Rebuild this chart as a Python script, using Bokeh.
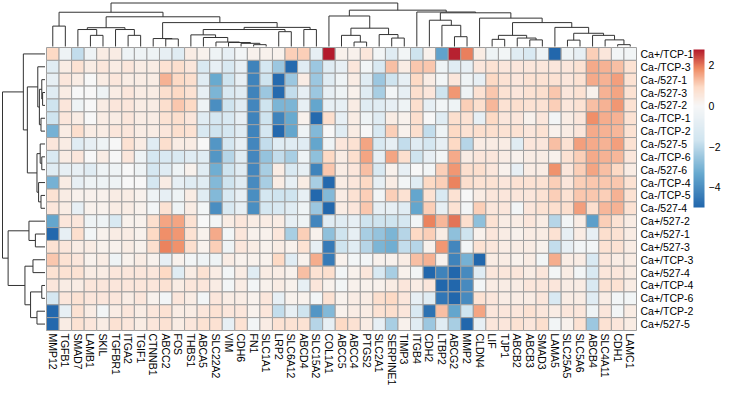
import math
from bokeh.plotting import figure
from bokeh.models import ColumnDataSource, LinearColorMapper, ColorBar, FixedTicker, Range1d
from bokeh.core.properties import value
from bokeh.embed import file_html
from bokeh.resources import INLINE

genes = ["MMP12", "TGFB1", "SMAD7", "LAMB1", "SKIL", "TGFBR1", "ITGA2", "TGIF1", "CTNNB1",
         "ABCC2", "FOS", "THBS1", "ABCA5", "SLC22A2", "VIM", "CDH6", "FN1", "SLC1A1", "LRP2",
         "SLC6A12", "ABCD4", "SLC15A2", "COL1A1", "ABCC5", "ABCC4", "PTGS2", "SLC2A1",
         "SERPINE1", "TIMP3", "ITGB4", "CDH2", "LTBP2", "ABCG2", "MMP2", "CLDN4", "LIF", "TJP1",
         "ABCB2", "ABCB3", "SMAD3", "LAMA5", "SLC25A5", "SLC5A6", "ABCB4", "SLC4A11", "CDH1", "LAMC1"]

samples = ["Ca+/TCP-1", "Ca-/TCP-3", "Ca-/527-1", "Ca-/527-3", "Ca-/527-2", "Ca-/TCP-1",
           "Ca-/TCP-2", "Ca-/527-5", "Ca-/TCP-6", "Ca-/527-6", "Ca-/TCP-4", "Ca-/TCP-5",
           "Ca-/527-4", "Ca+/527-2", "Ca+/527-1", "Ca+/527-3", "Ca+/TCP-3", "Ca+/527-4",
           "Ca+/TCP-4", "Ca+/TCP-6", "Ca+/TCP-2", "Ca+/527-5"]

r00 = [0.95,-0.4,-1.9,-0.4,0.35,0.35,-0.4,-0.4,-0.4,-0.7,-1.0,0.35,0.2,-0.4,-0.7,-0.2,0.2,0.2,0.2,1.05,1.05,-0.7,2.78,0.2,0.2,0.55,-0.2,-1.0,-0.2,-1.7,0.2,-3.5,2.7,1.95,0.35,-0.4,-0.2,-1.0,-1.3,-0.4,-5.0,-0.4,-0.7,1.05,0.55,-0.2,-0.2]
r01 = [-1.0,0.35,0.7,0.35,0.55,0.35,0.55,0.35,0.35,0.7,0.8,0.55,-1.3,-0.7,-1.3,-0.7,-4.3,-1.5,-2.5,-4.9,-1.0,-2.5,-1.0,-0.7,0.55,-0.2,-1.3,1.25,0.35,1.15,1.15,-0.4,-1.0,-0.7,0.55,0.7,0.55,0.55,0.55,0.55,0.55,0.55,0.7,1.5,1.4,1.25,0.7]
r02 = [-0.7,0.55,0.35,0.0,0.35,0.55,0.35,0.35,0.35,1.4,0.95,0.8,-1.0,-3.3,-1.7,-0.7,-4.3,-1.7,-4.9,-2.5,0.35,-2.5,-1.0,-0.4,0.35,-1.0,-2.5,-1.7,-0.7,0.95,0.35,-0.2,0.55,-0.4,-0.7,0.95,0.7,0.55,0.7,0.7,0.7,0.55,0.7,1.5,1.4,1.6,0.7]
r03 = [-1.0,0.35,0.0,0.0,-0.4,0.35,0.55,0.35,0.35,0.8,0.95,0.7,-0.7,-3.0,-1.3,-1.0,-4.3,-2.5,-4.9,-1.9,-0.7,-2.5,-0.7,-0.4,0.2,-1.0,-2.3,-0.2,-0.7,0.8,0.55,-1.7,1.7,-0.4,0.7,1.15,0.7,0.55,0.7,0.8,1.15,0.55,0.7,0.2,1.4,1.55,0.7]
r04 = [-1.7,0.55,-0.4,0.0,0.35,0.55,0.55,0.35,0.35,0.8,1.15,0.95,-0.4,-4.0,-1.7,-1.0,-4.2,-1.7,-3.0,-3.0,-0.7,-3.4,-0.7,-0.7,0.35,-1.0,-1.0,-0.7,-0.4,0.8,-0.7,-0.2,-0.4,1.05,0.8,1.35,0.7,0.8,0.7,0.7,1.05,0.55,0.7,1.25,1.4,1.7,0.7]
r05 = [-1.7,0.55,0.35,0.0,0.35,0.35,0.55,0.35,0.35,0.7,0.8,0.55,-1.0,-1.5,-1.3,-0.7,-4.3,-1.7,-4.3,-3.3,0.2,-4.9,0.8,-0.7,0.35,-0.4,-1.0,0.35,0.2,0.8,0.0,-1.0,0.8,0.7,-0.7,0.95,0.55,0.55,0.2,0.55,-0.2,0.35,0.55,1.8,1.45,1.4,0.7]
r06 = [-3.1,0.35,0.8,0.35,0.35,0.55,0.55,0.35,0.35,0.55,0.8,0.7,-1.3,-1.7,-1.5,-1.0,-4.3,-1.5,-4.95,-3.4,-0.4,-2.9,0.0,-1.0,0.35,0.0,-1.3,1.05,0.2,0.8,-1.9,-0.4,0.95,0.7,0.8,0.8,0.7,0.7,0.55,0.7,0.2,0.35,0.55,1.5,1.4,1.35,0.7]
r07 = [0.55,0.35,-1.0,-0.7,-0.4,0.0,0.7,0.35,-1.0,0.8,0.35,0.35,0.0,-3.8,-1.5,-0.7,-4.2,-1.9,-1.0,-1.0,-1.0,-3.4,-0.4,0.55,0.7,1.55,-1.3,-0.7,-1.9,-1.0,-1.5,-0.7,0.95,-2.1,0.35,0.35,0.35,-1.0,0.55,0.55,1.25,0.7,1.6,1.5,1.4,1.6,0.7]
r08 = [-1.3,0.35,0.55,0.0,0.35,0.0,0.55,-0.4,-1.5,-1.3,-1.3,-1.0,-1.0,-3.8,-2.1,-1.0,-4.2,-2.6,-1.9,-2.3,-0.4,-2.7,0.95,0.35,0.8,1.55,-0.7,1.55,0.8,-1.7,-0.7,-0.2,1.5,0.35,0.55,0.55,0.35,0.2,0.35,0.35,0.2,0.7,1.05,1.5,1.4,1.35,0.55]
r09 = [-1.0,-0.7,-0.7,-1.0,-0.4,-0.4,0.0,-0.4,-1.5,-1.0,-0.4,0.2,-1.0,-3.2,-1.7,-1.0,-4.2,-2.3,0.35,-1.3,-0.7,-4.3,1.15,0.35,0.55,1.25,-1.3,0.2,-0.7,0.0,-0.2,1.05,1.7,0.8,0.8,0.55,0.2,-0.7,0.35,0.35,1.75,0.55,1.05,1.55,1.25,0.95,0.35]
r10 = [-3.1,0.35,-0.7,-0.4,-0.4,-0.4,0.0,0.0,-1.5,0.35,-0.7,-1.0,-1.0,-2.9,-1.7,-1.0,-4.1,-2.3,0.35,-0.7,0.35,-2.3,-4.95,0.35,0.55,0.95,-0.7,0.35,-0.2,-1.0,0.95,1.05,1.9,0.8,0.7,0.7,0.55,0.7,0.7,0.7,1.05,0.55,1.05,1.15,1.15,1.15,0.7]
r11 = [0.7,0.35,0.2,0.2,0.2,0.35,0.35,0.2,-0.4,-0.7,-0.4,0.35,-1.0,-2.9,-1.3,-0.7,-4.0,-1.5,-1.7,-1.7,-0.7,-4.95,-2.9,0.35,0.7,1.05,-0.2,1.05,0.7,-3.4,0.7,-1.3,0.7,0.0,0.35,0.55,0.55,0.55,0.55,0.7,1.05,0.7,1.15,1.15,1.05,1.4,0.7]
r12 = [0.55,0.35,-0.7,0.2,0.2,0.35,0.35,0.2,-0.2,0.7,-0.4,0.35,-0.2,-4.0,-1.3,-0.7,-4.0,-1.5,-1.3,-1.0,-0.4,-2.5,-5.0,0.35,0.55,1.15,-0.7,-0.7,-1.0,-3.4,1.05,-0.7,0.7,-0.2,1.05,0.55,0.55,-0.2,0.55,0.7,0.8,0.8,1.6,0.8,1.35,1.4,0.7]
r13 = [-3.4,0.55,0.55,-0.4,-0.4,-1.3,0.2,0.2,0.8,1.55,1.55,0.7,0.0,-0.2,0.35,0.55,0.35,0.35,0.35,-0.7,-0.4,-4.2,-1.0,-1.0,-0.7,-1.7,-1.7,-1.7,-1.5,-0.2,1.9,1.35,2.05,0.8,-2.7,0.7,0.35,0.35,0.55,0.35,-2.1,-0.2,0.35,-3.6,1.05,0.7,0.35]
r14 = [-4.95,-0.7,0.8,-0.2,0.2,0.35,0.35,0.2,0.95,1.8,1.7,0.7,0.2,1.5,-0.2,0.55,0.2,0.2,0.55,-2.3,1.05,0.2,-2.7,-1.7,-0.7,-2.3,-2.6,-3.0,-2.1,0.95,1.05,0.35,-2.7,-1.7,0.2,0.55,0.35,0.2,0.35,0.35,0.7,-0.7,0.35,-0.7,0.8,0.7,0.35]
r15 = [0.7,0.55,0.35,0.35,0.2,0.2,0.35,0.2,0.8,1.9,1.75,0.8,0.2,1.05,-0.4,0.55,0.35,0.2,0.35,0.2,0.7,-0.7,-4.5,-1.7,-1.0,-2.1,-3.0,-3.2,-1.9,-2.1,0.2,1.7,-4.2,-0.2,0.7,0.55,0.35,0.35,0.35,0.2,-1.9,-0.7,-0.2,-0.2,0.7,0.7,0.35]
r16 = [1.15,0.7,0.55,0.2,0.35,-0.4,0.2,0.35,0.2,-0.7,0.2,-0.2,-0.4,-0.4,0.35,0.2,0.2,0.2,0.95,-1.0,0.2,1.45,-4.5,0.2,-0.2,-0.2,0.2,0.2,0.35,1.25,1.4,0.2,-4.3,-3.1,-5.0,0.35,0.35,0.2,0.35,-0.2,1.45,0.35,0.35,-1.3,0.55,0.35,0.35]
r17 = [0.7,0.7,0.7,0.35,0.35,0.55,0.55,0.55,0.55,0.95,-1.0,0.35,0.7,0.35,-0.2,0.35,-1.0,0.35,0.35,0.2,1.25,0.7,0.8,-0.2,0.2,0.55,-1.3,-2.3,0.2,-0.2,-5.0,-4.3,-5.0,-4.1,-1.0,0.55,0.55,0.55,0.35,0.55,-0.2,0.35,-0.2,-1.3,0.55,0.55,0.35]
r18 = [0.55,0.35,0.35,0.55,0.55,0.55,0.55,0.55,0.55,0.7,0.35,0.55,0.55,0.35,-0.2,0.35,-0.2,0.2,0.35,0.2,-0.7,0.55,0.2,-0.2,0.2,0.2,0.2,0.35,0.55,0.35,0.55,-5.0,-5.0,-4.1,-0.2,0.35,0.35,0.35,0.55,0.55,0.55,0.35,0.35,-1.3,0.7,0.7,0.35]
r19 = [-1.5,0.55,0.7,0.55,0.55,0.55,0.35,0.55,0.2,-0.2,0.55,0.35,-0.2,0.55,0.35,0.35,0.2,0.55,-0.7,0.2,0.2,-0.2,0.7,0.2,0.35,0.35,0.8,0.95,0.55,-0.7,-1.0,-4.6,-5.0,-4.1,0.7,0.55,0.35,0.35,0.35,0.55,-1.3,0.35,0.35,-1.0,0.35,-0.2,-0.2]
r20 = [-4.95,-0.7,0.7,0.35,-0.2,0.35,0.55,0.35,0.55,0.7,0.35,0.35,0.55,0.7,0.55,0.55,0.2,0.55,-1.9,-0.7,-1.7,-3.8,-2.9,0.2,0.35,0.35,0.7,0.8,0.55,-1.3,-4.7,1.25,-3.4,-1.7,1.55,0.55,0.55,0.55,0.7,0.55,0.35,0.55,0.55,-0.4,0.55,-0.2,0.35]
r21 = [-4.95,0.35,0.7,0.55,0.35,0.7,0.55,0.35,0.55,0.7,0.35,0.55,0.7,0.7,-0.7,0.7,-0.2,0.35,0.7,0.7,0.7,-2.1,-0.7,0.95,0.7,0.35,-0.7,-2.3,0.2,-1.0,-2.5,-1.0,-2.3,-5.0,-0.7,0.55,0.55,0.7,0.55,0.8,-0.2,0.2,0.7,-2.5,0.7,0.55,0.35]

rows = [r00, r01, r02, r03, r04, r05, r06, r07, r08, r09, r10, r11,
        r12, r13, r14, r15, r16, r17, r18, r19, r20, r21]

# dendrograms: (merge height, left, right)
col_tree = (54.6,
  (43.0,
    (25.6, "MMP12", "TGFB1"),
    (37.3,
      (23.6,
        (21.3, "SMAD7", (14.0, "LAMB1", "SKIL")),
        (21.3, "TGFBR1", (14.0, "ITGA2", "TGIF1"))),
      (30.0,
        (10.0, "CTNNB1", (9.5, "ABCC2", "FOS")),
        (24.0,
          (21.3,
            (14.6, "THBS1", (11.3, "ABCA5", (5.6, "SLC22A2", (5.0, "VIM", (4.0, "CDH6", (2.3, "FN1", "SLC1A1")))))),
            (18.6, "LRP2", "SLC6A12")),
          (21.3, "ABCD4", "SLC15A2"))))),
  (45.6,
    (38.3, "COL1A1",
      (23.0,
        (14.0, "ABCC5", (5.6, "ABCC4", "PTGS2")),
        (15.0, "SLC2A1", (10.6, "SERPINE1", "TIMP3")))),
    (43.3, "ITGB4",
      (42.3,
        (33.0, "CDH2", (26.6, "LTBP2", (12.3, "ABCG2", "MMP2"))),
        (35.6, "CLDN4",
          (30.0,
            (14.0, (9.0, "LIF", "TJP1"), (10.6, "ABCB2", (8.3, "ABCB3", "SMAD3"))),
            (24.0, "LAMA5",
              (16.6, (8.0, "SLC25A5", "SLC5A6"),
                (14.0, "ABCB4", (8.3, "SLC4A11", (2.3, "CDH1", "LAMC1")))))))))))

row_tree = (53.0,
  (27.0, "Ca+/TCP-1",
    (22.0,
      (9.0, "Ca-/TCP-3",
        (7.0, (4.0, "Ca-/527-1", (3.0, "Ca-/527-3", "Ca-/527-2")), (5.0, "Ca-/TCP-1", "Ca-/TCP-2"))),
      (10.0,
        (6.0, "Ca-/527-5", (4.0, "Ca-/TCP-6", "Ca-/527-6")),
        (8.0, "Ca-/TCP-4", (5.0, "Ca-/TCP-5", "Ca-/527-4"))))),
  (46.0,
    (20.0, "Ca+/527-2", (12.0, "Ca+/527-1", "Ca+/527-3")),
    (25.0,
      (15.0, "Ca+/TCP-3", "Ca+/527-4"),
      (18.0, (4.0, "Ca+/TCP-4", "Ca+/TCP-6"), (10.0, "Ca+/TCP-2", "Ca+/527-5")))))

# ---- geometry (pixels of the figure) ----
W, H = 724, 387
hm_left, hm_right, hm_top, hm_bottom = 46, 636, 47, 330
ncol, nrow = len(genes), len(samples)
kx = (hm_right - hm_left) / ncol
ky = (hm_bottom - hm_top) / nrow
x0 = -hm_left / kx
x1 = (W - hm_left) / kx
y0 = -(H - hm_bottom) / ky
y1 = nrow + hm_top / ky

anchors = [(-5.0, "#2166AC"), (-3.333, "#67A9CF"), (-1.667, "#D1E5F0"), (0.0, "#F7F7F7"),
           (0.927, "#FDDBC7"), (1.853, "#EF8A62"), (2.78, "#B2182B")]
vmin, vmax = anchors[0][0], anchors[-1][0]

def hex2rgb(h):
    return tuple(int(h[i:i + 2], 16) for i in (1, 3, 5))

def interp(v):
    for (a, ca), (b, cb) in zip(anchors[:-1], anchors[1:]):
        if a <= v <= b:
            t = (v - a) / (b - a)
            A, B = hex2rgb(ca), hex2rgb(cb)
            return "#%02x%02x%02x" % tuple(round(A[i] + (B[i] - A[i]) * t) for i in range(3))
    return anchors[0][1] if v < a else anchors[-1][1]

N = 256
palette = [interp(vmin + (k + 0.5) * (vmax - vmin) / N) for k in range(N)]
mapper = LinearColorMapper(palette=palette, low=vmin, high=vmax)

p = figure(width=W, height=H, output_backend="svg", toolbar_location=None,
           x_range=Range1d(x0, x1), y_range=Range1d(y0, y1),
           x_axis_location=None, y_axis_location=None,
           min_border=0, min_border_left=0, min_border_right=0, min_border_top=0, min_border_bottom=0)
p.outline_line_color = None
p.xgrid.visible = False
p.ygrid.visible = False
p.background_fill_color = "white"

# heatmap cells
xs, ys, vs = [], [], []
for i, s in enumerate(samples):
    for j, g in enumerate(genes):
        xs.append(j + 0.5)
        ys.append(nrow - i - 0.5)
        vs.append(rows[i][j])
src = ColumnDataSource(dict(x=xs, y=ys, v=vs))
p.rect(x="x", y="y", width=1, height=1, source=src,
       fill_color={"field": "v", "transform": mapper},
       line_color="#a0a0a0", line_width=1)

# dendrograms
def dendro(tree, pos):
    segs = []
    def rec(node):
        if isinstance(node, str):
            return pos[node], 0.0
        h, a, b = node
        xa, ha = rec(a)
        xb, hb = rec(b)
        segs.append((xa, ha, xa, h))
        segs.append((xb, hb, xb, h))
        segs.append((xa, h, xb, h))
        return (xa + xb) / 2, h
    rec(tree)
    return segs

cpos = {g: j + 0.5 for j, g in enumerate(genes)}
csegs = dendro(col_tree, cpos)
top_base = nrow + 1.0 / ky
top_scale = (y1 - 2.5 / ky - top_base) / col_tree[0]
p.segment(x0=[s[0] for s in csegs], y0=[top_base + s[1] * top_scale for s in csegs],
          x1=[s[2] for s in csegs], y1=[top_base + s[3] * top_scale for s in csegs],
          line_color="#333333", line_width=1)

rpos = {s: nrow - i - 0.5 for i, s in enumerate(samples)}
rsegs = dendro(row_tree, rpos)
left_base = -1.5 / kx
left_scale = (x0 + 2.0 / kx - left_base) / row_tree[0]
p.segment(x0=[left_base + s[1] * left_scale for s in rsegs], y0=[s[0] for s in rsegs],
          x1=[left_base + s[3] * left_scale for s in rsegs], y1=[s[2] for s in rsegs],
          line_color="#333333", line_width=1)

# labels
font = value("Liberation Sans")
p.text(x=[ncol + 4.0 / kx] * nrow, y=[rpos[s] for s in samples], text=samples,
       text_font=font, text_font_size="10.5px", text_align="left", text_baseline="middle",
       text_color="black")
p.text(x=[cpos[g] for g in genes], y=[-3.0 / ky] * ncol, text=genes, angle=-math.pi / 2,
       text_font=font, text_font_size="10.5px", text_align="left", text_baseline="middle",
       text_color="black")

cb = ColorBar(color_mapper=mapper, ticker=FixedTicker(ticks=[-4, -2, 0, 2]),
              width=11, height=158, location=(693, H - 49 - 158), padding=0, margin=0,
              bar_line_color=None, major_tick_line_color=None, minor_tick_line_color=None,
              label_standoff=4, major_label_text_font="Liberation Sans",
              major_label_text_font_size="10.5px", major_label_text_color="black",
              background_fill_color=None, border_line_color=None)
p.add_layout(cb, "center")

open("out.html", "w").write(file_html(p, INLINE))
